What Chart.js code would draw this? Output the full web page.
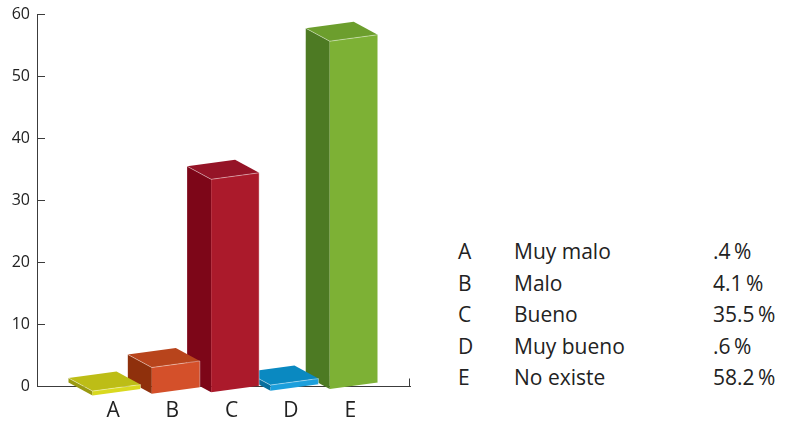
<!DOCTYPE html>
<html><head><meta charset="utf-8">
<script src="https://cdn.jsdelivr.net/npm/chart.js@4.4.1/dist/chart.umd.min.js"></script>
<style>
html,body{margin:0;padding:0;background:#fff;}
#wrap{position:relative;width:786px;height:425px;overflow:hidden;background:#fff;}
#chartBox{position:absolute;left:0;top:0;width:440px;height:425px;}
#legend{position:absolute;left:458px;top:236px;font-family:'Open Sans',Lato,sans-serif;font-size:21px;color:#222;}
.row{position:relative;height:31.6px;line-height:31.6px;white-space:nowrap;width:330px;}
.row span{position:absolute;top:0;}
.row .k{left:0;} .row .n{left:56px;} .row .v{left:255px;}
</style></head><body>
<div id="wrap"><div id="chartBox"><canvas id="c" width="440" height="425"></canvas></div><div id="legend"></div></div>
<script>
// ---- data ----
const categories = ['A','B','C','D','E'];
const categoryNames = ['Muy malo','Malo','Bueno','Muy bueno','No existe'];
const values = [0.4, 4.1, 35.5, 0.6, 58.2];
const percentLabels = ['.4\u2009%','4.1\u2009%','35.5\u2009%','.6\u2009%','58.2\u2009%'];
const positions = [1, 2, 3, 4, 5];
const yTicks = [0, 10, 20, 30, 40, 50, 60];

// ---- styles ----
const frontColors = ['#d9d91f', '#d4502a', '#ab1a2b', '#1c9fdc', '#7db135'];
const topColors   = ['#bdbd16', '#b8441c', '#951427', '#0a89c1', '#6c9e2d'];
const sideColors  = ['#9a9a10', '#8f300c', '#7d0618', '#086f9e', '#4d7a23'];

// legend
const leg = document.getElementById('legend');
categories.forEach((c, i) => {
  const r = document.createElement('div'); r.className = 'row';
  r.innerHTML = '<span class="k"></span><span class="n"></span><span class="v"></span>';
  r.querySelector('.k').textContent = c;
  r.querySelector('.n').textContent = categoryNames[i];
  r.querySelector('.v').textContent = percentLabels[i];
  leg.appendChild(r);
});

function poly(ctx, pts, color) {
  ctx.beginPath();
  ctx.moveTo(pts[0][0], pts[0][1]);
  for (let k = 1; k < pts.length; k++) ctx.lineTo(pts[k][0], pts[k][1]);
  ctx.closePath();
  ctx.fillStyle = color; ctx.fill();
}

const bar3d = {
  id: 'bar3d',
  beforeDatasetsDraw(chart) {
    const {ctx, chartArea} = chart;
    ctx.save();
    ctx.strokeStyle = '#3c3c3c'; ctx.lineWidth = 1;
    ctx.beginPath();
    ctx.moveTo(Math.round(chartArea.right) - 0.5, chartArea.bottom);
    ctx.lineTo(Math.round(chartArea.right) - 0.5, chartArea.bottom - 8);
    ctx.stroke();
    ctx.restore();
  },
  afterDatasetsDraw(chart) {
    const {ctx, chartArea} = chart;
    const ys = chart.scales.y;
    const meta = chart.getDatasetMeta(0);
    const base = ys.getPixelForValue(0);
    const dx = -24, dy = -13, slant = 6.5, persp = 0.957;
    ctx.save();
    for (let i = meta.data.length - 1; i >= 0; i--) {
      const el = meta.data[i];
      const p = el.getProps(['x', 'y', 'width'], true);
      const xl = p.x - 20.5, xr = xl + p.width;
      const bl = base + 10.5 - 0.0273 * (xl - chartArea.left);
      const h = (base - p.y) * persp + 2;
      const FLB = [xl, bl], FRB = [xr, bl - slant], FLT = [xl, bl - h], FRT = [xr, bl - slant - h];
      const BLT = [xl + dx, bl - h + dy], BRT = [xr + dx, bl - slant - h + dy], BLB = [xl + dx, bl + dy];
      poly(ctx, [FLT, FLB, BLB, BLT], sideColors[i]);
      poly(ctx, [FLT, FRT, BRT, BLT], topColors[i]);
      poly(ctx, [FLB, FRB, FRT, FLT], frontColors[i]);
      ctx.strokeStyle = 'rgba(255,255,255,0.4)'; ctx.lineWidth = 1;
      ctx.beginPath();
      ctx.moveTo(BLT[0], BLT[1]); ctx.lineTo(FLT[0], FLT[1]); ctx.lineTo(FRT[0], FRT[1]); ctx.lineTo(FRB[0], FRB[1]);
      ctx.stroke();
    }
    ctx.restore();
  }
};

new Chart(document.getElementById('c'), {
  type: 'bar',
  data: {
    datasets: [{
      data: positions.map((p, i) => ({x: p, y: values[i]})),
      backgroundColor: 'rgba(0,0,0,0)',
      borderWidth: 0,
      barThickness: 48
    }]
  },
  options: {
    responsive: false,
    devicePixelRatio: 1,
    animation: false,
    layout: {padding: {top: 14, right: 30, left: 0, bottom: 0}},
    plugins: {legend: {display: false}, tooltip: {enabled: false}},
    scales: {
      x: {
        type: 'linear', min: -0.282, max: 6.008, offset: false,
        afterBuildTicks: s => { s.ticks = positions.map(v => ({value: v})); },
        afterFit: s => { s.height = 38.5; s.paddingLeft = 0; s.paddingRight = 0; },
        grid: {display: true, drawOnChartArea: false, drawTicks: false},
        border: {display: true, color: '#3c3c3c', width: 1},
        ticks: {
          padding: 12, autoSkip: false, maxRotation: 0, color: '#222',
          font: {family: 'Open Sans', size: 21},
          callback: v => { const k = positions.indexOf(v); return k >= 0 ? categories[k] : ''; }
        }
      },
      y: {
        min: 0, max: 60,
        afterBuildTicks: s => { s.ticks = yTicks.map(v => ({value: v})); },
        afterFit: s => { s.width = 37; s.paddingTop = 0; s.paddingBottom = 0; },
        grid: {drawOnChartArea: false, drawTicks: true, tickLength: -8, color: '#3c3c3c'},
        border: {display: true, color: '#3c3c3c', width: 1},
        ticks: {padding: 15, color: '#222', font: {family: 'Open Sans', size: 16}}
      }
    }
  },
  plugins: [bar3d]
});
</script>
</body></html>
